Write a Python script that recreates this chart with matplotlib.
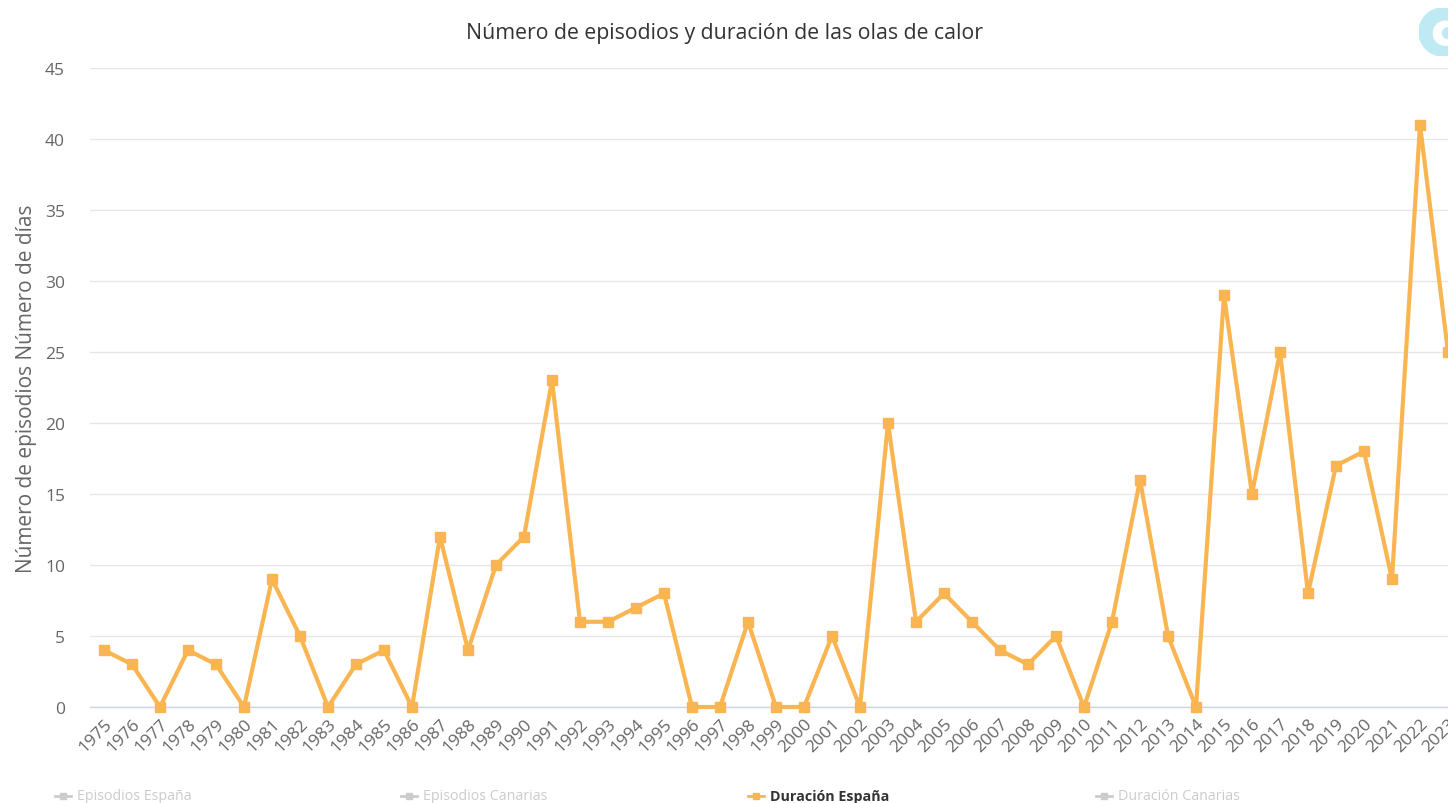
import matplotlib.pyplot as plt
from matplotlib.lines import Line2D
from matplotlib.patches import Circle

plt.rcParams['font.family'] = ['Open Sans', 'DejaVu Sans']

years = [str(y) for y in range(1975, 2024)]
duracion_espana = [4, 3, 0, 4, 3, 0, 9, 5, 0, 3, 4, 0, 12, 4, 10, 12, 23, 6, 6, 7,
                   8, 0, 0, 6, 0, 0, 5, 0, 20, 6, 8, 6, 4, 3, 5, 0, 6, 16, 5, 0,
                   29, 15, 25, 8, 17, 18, 9, 41, 25]
legend_labels = ['Episodios España', 'Episodios Canarias', 'Duración España', 'Duración Canarias']
legend_visible = [False, False, True, False]
yticks = [0, 5, 10, 15, 20, 25, 30, 35, 40, 45]

orange = '#f9b552'

fig = plt.figure(figsize=(14.48, 8.04), dpi=100)
ax = fig.add_axes([90 / 1448, 1 - 708 / 804, 1358 / 1448, 639 / 804])

x = list(range(len(years)))
ax.plot(x, duracion_espana, color=orange, lw=3, marker='s', markersize=6.5,
        clip_on=False, zorder=3)

ax.set_xlim(-0.5, len(years) - 1)
ax.set_ylim(0, 45)
ax.set_yticks(yticks)
ax.set_xticks(x)
ax.set_xticklabels(years, rotation=45, ha='right', rotation_mode='anchor')
ax.tick_params(axis='x', length=0, labelsize=12.5, labelcolor='#666666', pad=6)
ax.tick_params(axis='y', length=0, labelsize=12.5, labelcolor='#666666', pad=18)
ax.grid(axis='y', color='#e6e6e6', lw=1)
ax.set_axisbelow(True)
for s in ['top', 'right', 'left']:
    ax.spines[s].set_visible(False)
ax.spines['bottom'].set_color('#ccd6eb')
ax.spines['bottom'].set_linewidth(1)
ax.set_ylabel('Número de episodios Número de días', fontsize=15, color='#666666')
ax.yaxis.set_label_coords((37 - 90) / 1358, 0.5)

fig.text(0.5, 1 - 34 / 804, 'Número de episodios y duración de las olas de calor',
         ha='center', va='center', fontsize=15.3, color='#333333')

# legend
leg_x = [55, 401, 748, 1096]
for lx, lab, vis in zip(leg_x, legend_labels, legend_visible):
    c = orange if vis else '#cccccc'
    tc = '#333333' if vis else '#cccccc'
    fx = lx / 1448
    fy = 1 - 797 / 804
    fig.add_artist(Line2D([fx, fx + 16 / 1448], [fy, fy], color=c, lw=2,
                          transform=fig.transFigure))
    fig.add_artist(Line2D([fx + 8 / 1448], [fy], color=c, marker='s', markersize=5,
                          transform=fig.transFigure))
    fig.text(fx + 22 / 1448, fy, lab, fontsize=10.3, color=tc, va='center', ha='left',
             fontweight='bold' if vis else 'normal')

# logo
lax = fig.add_axes([1419 / 1448, 1 - 57 / 804, 48 / 1448, 48 / 804])
lax.set_xlim(-1, 1)
lax.set_ylim(-1, 1)
lax.set_aspect('equal')
lax.axis('off')
lax.add_patch(Circle((0, 0), 1, color='#bfeaf3'))
lax.add_patch(Circle((0.1, -0.05), 0.5, color='white'))
lax.add_patch(Circle((0.2, -0.05), 0.22, color='#bfeaf3'))

fig.savefig('out.png', dpi=100, facecolor='white')
